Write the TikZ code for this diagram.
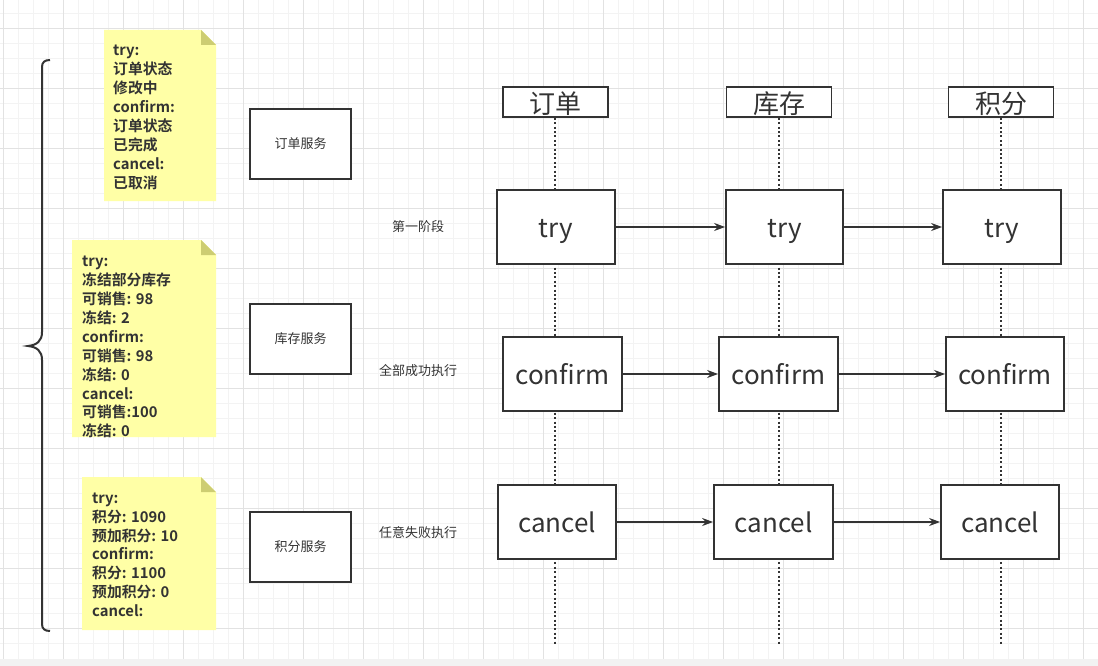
\documentclass[tikz,border=0pt]{standalone}
\usepackage{fontspec}
\setmainfont{Noto Sans CJK SC}
\newfontfamily\notefont{Noto Sans CJK SC Bold}
\usetikzlibrary{arrows.meta}
\definecolor{ink}{HTML}{333333}
\definecolor{gridminor}{HTML}{F3F3F3}
\definecolor{gridmajor}{HTML}{E2E2E2}
\definecolor{noteY}{HTML}{FFFFA6}
\definecolor{noteF}{HTML}{CDCD72}
\definecolor{strip}{HTML}{F2F2F2}
\tikzset{
  svcbox/.style={draw=ink, line width=1.8pt, fill=white, minimum width=101pt, minimum height=70pt, inner sep=0pt, font=\fontsize{13}{15}\selectfont, text=ink},
  hdrbox/.style={draw=ink, line width=1.8pt, fill=white, minimum width=105pt, minimum height=30pt, inner sep=0pt, text height=24pt, text depth=1pt, font=\fontsize{26}{28}\selectfont, text=ink},
  stepbox/.style={draw=ink, line width=1.8pt, fill=white, minimum height=74pt, inner sep=0pt, text height=22pt, text depth=2pt, font=\fontsize{26}{30}\selectfont, text=ink},
  lifeline/.style={draw=ink, line width=2pt, dash pattern=on 2pt off 2.4pt},
  msg/.style={draw=ink, line width=1.5pt, -{Stealth[length=11pt,width=8pt]}},
  notetext/.style={anchor=north west, inner sep=0pt, align=left, text=ink, font=\notefont\fontsize{14.8}{18.9}\selectfont},
  phase/.style={inner sep=0pt, text=ink, font=\fontsize{13}{15}\selectfont},
  notebody/.style={fill=noteY},
  notefold/.style={fill=noteF}
}
\begin{document}
\begin{tikzpicture}[x=1pt,y=-1pt]
\useasboundingbox (0,0) rectangle (1098,666);
\fill[white] (0,0) rectangle (1098,666);
% grid
\foreach \i in {0,...,72} {\draw[gridminor, line width=1pt] ({3.3+15*\i},0) -- ({3.3+15*\i},659);}
\foreach \j in {0,...,42} {\draw[gridminor, line width=1pt] (0,{13.3+15*\j}) -- (1098,{13.3+15*\j});}
\foreach \i in {0,...,18} {\draw[gridmajor, line width=1pt] ({3.3+60*\i},0) -- ({3.3+60*\i},659);}
\foreach \j in {0,...,10} {\draw[gridmajor, line width=1pt] (0,{28.3+60*\j}) -- (1098,{28.3+60*\j});}
\fill[strip] (0,659) rectangle (1098,666);

% brace
\draw[ink, line width=2pt] (50,60) .. controls (45,60) and (42,62) .. (42,67) -- (42,332)
  .. controls (42,341) and (37,345) .. (28,346)
  .. controls (37,347) and (42,351) .. (42,360) -- (42,624)
  .. controls (42,629) and (45,631) .. (50,631);

% notes
\fill[notebody] (104,30) -- (201,30) -- (216,45) -- (216,201) -- (104,201) -- cycle;
\fill[notefold] (201,30) -- (216,45) -- (201,45) -- cycle;
\node[notetext] (n1) at (113,45) {try:\\订单状态\\修改中\\confirm:\\订单状态\\已完成\\cancel:\\已取消};

\fill[notebody] (72,240) -- (201,240) -- (216,255) -- (216,437) -- (72,437) -- cycle;
\fill[notefold] (201,240) -- (216,255) -- (201,255) -- cycle;
\begin{scope}
\clip (72,240) rectangle (216,437);
\node[notetext] (n2) at (82,256) {try:\\冻结部分库存\\可销售: 98\\冻结: 2\\confirm:\\可销售: 98\\冻结: 0\\cancel:\\可销售:100\\冻结: 0};
\end{scope}

\fill[notebody] (82,477) -- (201,477) -- (216,492) -- (216,630) -- (82,630) -- cycle;
\fill[notefold] (201,477) -- (216,492) -- (201,492) -- cycle;
\node[notetext] (n3) at (92,492.5) {try:\\积分: 1090\\预加积分: 10\\confirm:\\积分: 1100\\预加积分: 0\\cancel:};

% service boxes
\node[svcbox] (s1) at (300.5,144) {订单服务};
\node[svcbox] (s2) at (300.5,339) {库存服务};
\node[svcbox] (s3) at (300.5,547) {积分服务};

% phase labels
\node[phase] (p1) at (418,227) {第一阶段};
\node[phase] (p2) at (418,371) {全部成功执行};
\node[phase] (p3) at (418,533) {任意失败执行};

% headers
\node[hdrbox] (h1) at (555.5,102) {订单};
\node[hdrbox] (h2) at (779,102) {库存};
\node[hdrbox] (h3) at (1001,102) {积分};
\coordinate (e1) at (555,645);
\coordinate (e2) at (779,645);
\coordinate (e3) at (1001,645);
\draw[lifeline] (h1.south -| e1) -- (e1);
\draw[lifeline] (h2.south -| e2) -- (e2);
\draw[lifeline] (h3.south -| e3) -- (e3);

% try row
\node[stepbox, minimum width=118pt] (t1) at (556,227) {try};
\node[stepbox, minimum width=117pt] (t2) at (784.5,227) {try};
\node[stepbox, minimum width=118pt] (t3) at (1002,227) {try};
% confirm row
\node[stepbox, minimum width=119pt] (c1) at (562.5,374) {confirm};
\node[stepbox, minimum width=119pt] (c2) at (778.5,374) {confirm};
\node[stepbox, minimum width=118pt] (c3) at (1005,374) {confirm};
% cancel row
\node[stepbox, minimum width=118pt] (x1) at (557,522) {cancel};
\node[stepbox, minimum width=119pt] (x2) at (773.5,522) {cancel};
\node[stepbox, minimum width=118pt] (x3) at (1000,522) {cancel};

\draw[msg] (t1) -- (t2);
\draw[msg] (t2) -- (t3);
\draw[msg] (c1) -- (c2);
\draw[msg] (c2) -- (c3);
\draw[msg] (x1) -- (x2);
\draw[msg] (x2) -- (x3);
\end{tikzpicture}
\end{document}
